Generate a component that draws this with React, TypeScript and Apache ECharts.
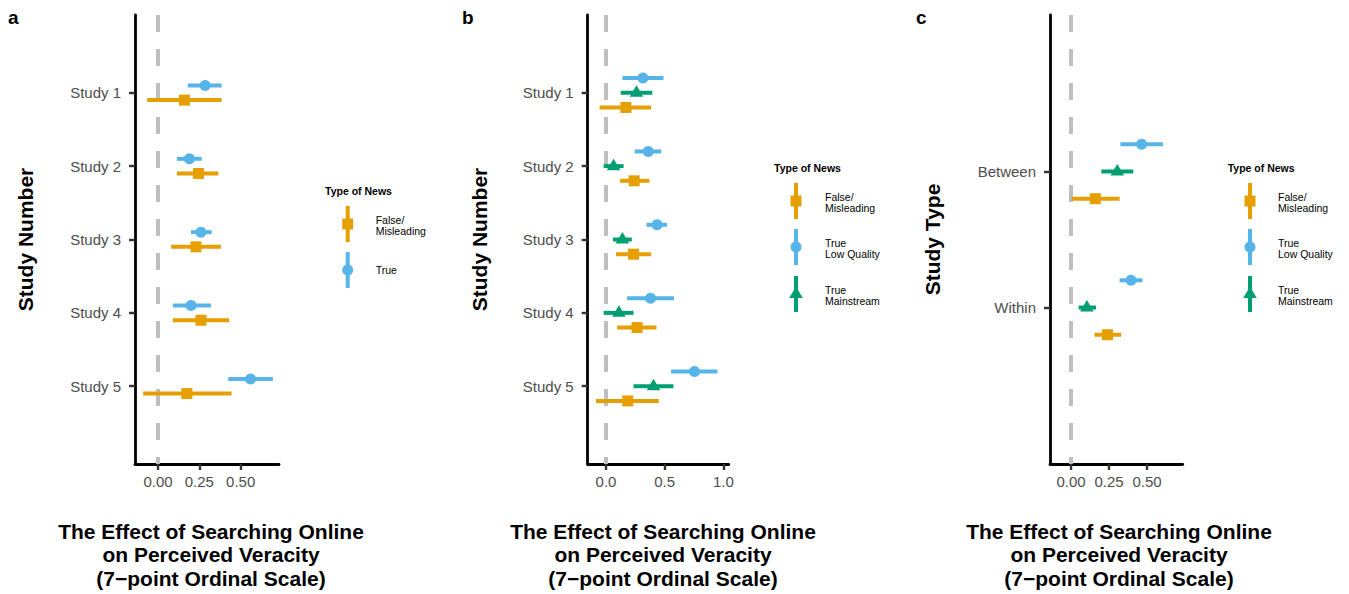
import React, { useEffect, useRef } from "react";
import * as echarts from "echarts";

// ---- data ----
const studyLabels = ["Study 1", "Study 2", "Study 3", "Study 4", "Study 5"];
const designLabels = ["Between", "Within"];

// Panel a: false/misleading vs true
const aFalseEst = [0.16, 0.245, 0.23, 0.26, 0.175];
const aFalseLo = [-0.065, 0.115, 0.08, 0.09, -0.09];
const aFalseHi = [0.385, 0.365, 0.38, 0.43, 0.445];
const aTrueEst = [0.285, 0.19, 0.26, 0.2, 0.56];
const aTrueLo = [0.18, 0.115, 0.2, 0.09, 0.425];
const aTrueHi = [0.385, 0.265, 0.325, 0.32, 0.695];

// Panel b: false/misleading, true low quality, true mainstream
const bFalseEst = [0.17, 0.24, 0.235, 0.265, 0.185];
const bFalseLo = [-0.055, 0.12, 0.085, 0.095, -0.085];
const bFalseHi = [0.385, 0.37, 0.385, 0.43, 0.45];
const bLowEst = [0.315, 0.36, 0.435, 0.38, 0.755];
const bLowLo = [0.14, 0.245, 0.345, 0.18, 0.555];
const bLowHi = [0.49, 0.47, 0.52, 0.58, 0.95];
const bMainEst = [0.26, 0.065, 0.14, 0.11, 0.405];
const bMainLo = [0.125, -0.02, 0.06, -0.02, 0.235];
const bMainHi = [0.395, 0.15, 0.22, 0.235, 0.575];

// Panel c: by study design
const cFalseEst = [0.16, 0.24];
const cFalseLo = [0.005, 0.155];
const cFalseHi = [0.32, 0.33];
const cLowEst = [0.465, 0.395];
const cLowLo = [0.325, 0.32];
const cLowHi = [0.605, 0.47];
const cMainEst = [0.305, 0.105];
const cMainLo = [0.2, 0.05];
const cMainHi = [0.41, 0.165];

const aTicks = [0, 0.25, 0.5];
const bTicks = [0, 0.5, 1];
const cTicks = [0, 0.25, 0.5];

// ---- styling ----
const ORANGE = "#E69F00";
const BLUE = "#56B4E9";
const GREEN = "#009E73";
const FONT = '"Liberation Sans", Arial, Helvetica, sans-serif';
const BAR_W = 4;

type Shape = "square" | "circle" | "triangle";

function symbolAt(shape: Shape, x: number, y: number, color: string) {
  if (shape === "square") {
    return { type: "rect", shape: { x: x - 5.5, y: y - 5.5, width: 11, height: 11 }, style: { fill: color } };
  }
  if (shape === "circle") {
    return { type: "circle", shape: { cx: x, cy: y, r: 5.5 }, style: { fill: color } };
  }
  return {
    type: "polygon",
    shape: { points: [[x, y - 7.5], [x + 6.8, y + 4], [x - 6.8, y + 4]] },
    style: { fill: color },
  };
}

function intervalRender(shape: Shape, color: string) {
  return (_params: any, api: any) => {
    const y = api.value(3);
    const a = api.coord([api.value(0), y]);
    const b = api.coord([api.value(1), y]);
    const c = api.coord([api.value(2), y]);
    return {
      type: "group",
      children: [
        {
          type: "line",
          shape: { x1: a[0], y1: a[1], x2: b[0], y2: b[1] },
          style: { stroke: color, lineWidth: BAR_W, lineCap: "butt" },
        },
        symbolAt(shape, c[0], c[1], color),
      ],
    };
  };
}

function rows(lo: number[], hi: number[], est: number[], offset: number) {
  return est.map((e, i) => [lo[i], hi[i], e, i + 1 + offset]);
}

function intervalSeries(idx: number, name: string, shape: Shape, color: string, data: number[][]) {
  return {
    type: "custom",
    name,
    xAxisIndex: idx,
    yAxisIndex: idx,
    renderItem: intervalRender(shape, color),
    encode: { x: [0, 1, 2], y: 3 },
    data,
    clip: false,
    z: 3,
  };
}

function zeroLineSeries(idx: number, yMin: number, yMax: number) {
  return {
    type: "custom",
    xAxisIndex: idx,
    yAxisIndex: idx,
    data: [[0]],
    encode: { x: 0 },
    z: 1,
    renderItem: (_p: any, api: any) => {
      const top = api.coord([api.value(0), yMin]);
      const bot = api.coord([api.value(0), yMax]);
      return {
        type: "line",
        shape: { x1: top[0], y1: top[1], x2: bot[0], y2: bot[1] },
        style: { stroke: "#BEBEBE", lineWidth: 4, lineDash: [17, 17], lineCap: "butt" },
      };
    },
  };
}

const axisLineStyle = { show: true, onZero: false, lineStyle: { color: "#000", width: 2.8 } };
const tickStyle = { lineStyle: { color: "#333", width: 2.4 } };
const labelStyle = { color: "#4D4D4D", fontSize: 15, fontFamily: FONT };

function xAxis(idx: number, min: number, max: number, ticks: number[], digits: number) {
  return {
    type: "value",
    gridIndex: idx,
    min,
    max,
    splitLine: { show: false },
    axisLine: axisLineStyle,
    axisTick: { show: true, length: 6, customValues: ticks, ...tickStyle },
    axisLabel: { ...labelStyle, margin: 10, customValues: ticks, formatter: (v: number) => v.toFixed(digits) },
  };
}

function yAxis(idx: number, min: number, max: number, labels: string[]) {
  const positions = labels.map((_, i) => i + 1);
  return {
    type: "value",
    gridIndex: idx,
    inverse: true,
    min,
    max,
    splitLine: { show: false },
    axisLine: axisLineStyle,
    axisTick: { show: true, length: 6, customValues: positions, ...tickStyle },
    axisLabel: {
      ...labelStyle,
      margin: 14,
      customValues: positions,
      formatter: (v: number) => labels[Math.round(v) - 1] ?? "",
    },
  };
}

function text(x: number, y: number, str: string, font: string, extra: any = {}) {
  return {
    type: "text",
    x,
    y,
    silent: true,
    ...extra,
    style: {
      text: str,
      font,
      fill: "#000",
      align: extra.align ?? "left",
      textAlign: extra.align ?? "left",
      verticalAlign: "middle",
      textVerticalAlign: "middle",
      lineHeight: extra.lineHeight,
    },
  };
}

function legend(left: number, titleY: number, keyX: number, labelX: number, keys: { y: number; shape: Shape; color: string; lines: string[] }[]) {
  const els: any[] = [text(left, titleY, "Type of News", `bold 10.5px ${FONT}`)];
  keys.forEach((k) => {
    els.push({
      type: "line",
      silent: true,
      shape: { x1: keyX, y1: k.y - 18, x2: keyX, y2: k.y + 18 },
      style: { stroke: k.color, lineWidth: BAR_W },
    });
    els.push({ ...symbolAt(k.shape, keyX, k.y, k.color), silent: true });
    k.lines.forEach((ln, j) => {
      const y = k.lines.length === 1 ? k.y : k.y - 4 + j * 11;
      els.push(text(labelX, y, ln, `10.5px ${FONT}`));
    });
  });
  return els;
}

const xTitle = "The Effect of Searching Online\non Perceived Veracity\n(7\u2212point Ordinal Scale)";

export default function App() {
  const ref = useRef<HTMLDivElement>(null);

  useEffect(() => {
    document.body.style.margin = "0";
    if (!ref.current) return;
    const chart = echarts.init(ref.current, undefined, { renderer: "svg" });

    const aY = [-0.06, 6.06];
    const bY = [-0.06, 6.06];
    const cY = [-0.15, 3.15];

    const option: any = {
      animation: false,
      backgroundColor: "#fff",
      textStyle: { fontFamily: FONT },
      grid: [
        { left: 135, top: 15, width: 144, height: 449 },
        { left: 587.7, top: 15, width: 141, height: 449 },
        { left: 1050, top: 15, width: 132.7, height: 449 },
      ],
      xAxis: [
        xAxis(0, -0.139, 0.732, aTicks, 2),
        xAxis(1, -0.156, 1.046, bTicks, 1),
        xAxis(2, -0.138, 0.735, cTicks, 2),
      ],
      yAxis: [
        yAxis(0, aY[0], aY[1], studyLabels),
        yAxis(1, bY[0], bY[1], studyLabels),
        yAxis(2, cY[0], cY[1], designLabels),
      ],
      series: [
        zeroLineSeries(0, aY[0], aY[1]),
        zeroLineSeries(1, bY[0], bY[1]),
        zeroLineSeries(2, cY[0], cY[1]),

        intervalSeries(0, "False/Misleading", "square", ORANGE, rows(aFalseLo, aFalseHi, aFalseEst, 0.1)),
        intervalSeries(0, "True", "circle", BLUE, rows(aTrueLo, aTrueHi, aTrueEst, -0.1)),

        intervalSeries(1, "False/Misleading", "square", ORANGE, rows(bFalseLo, bFalseHi, bFalseEst, 0.2)),
        intervalSeries(1, "True Low Quality", "circle", BLUE, rows(bLowLo, bLowHi, bLowEst, -0.2)),
        intervalSeries(1, "True Mainstream", "triangle", GREEN, rows(bMainLo, bMainHi, bMainEst, 0)),

        intervalSeries(2, "False/Misleading", "square", ORANGE, rows(cFalseLo, cFalseHi, cFalseEst, 0.2)),
        intervalSeries(2, "True Low Quality", "circle", BLUE, rows(cLowLo, cLowHi, cLowEst, -0.2)),
        intervalSeries(2, "True Mainstream", "triangle", GREEN, rows(cMainLo, cMainHi, cMainEst, 0)),
      ],
      graphic: [
        // panel tags
        text(8, 17, "a", `bold 19px ${FONT}`),
        text(462, 17, "b", `bold 19px ${FONT}`),
        text(916, 17, "c", `bold 19px ${FONT}`),
        // y titles
        text(25, 239.5, "Study Number", `bold 21px ${FONT}`, { rotation: Math.PI / 2, align: "center" }),
        text(479, 239.5, "Study Number", `bold 21px ${FONT}`, { rotation: Math.PI / 2, align: "center" }),
        text(932, 239.5, "Study Type", `bold 21px ${FONT}`, { rotation: Math.PI / 2, align: "center" }),
        // x titles
        text(211, 554.5, xTitle, `bold 21px ${FONT}`, { align: "center", lineHeight: 23.5 }),
        text(663, 554.5, xTitle, `bold 21px ${FONT}`, { align: "center", lineHeight: 23.5 }),
        text(1119, 554.5, xTitle, `bold 21px ${FONT}`, { align: "center", lineHeight: 23.5 }),
        // legends
        ...legend(325, 191, 347.7, 375.7, [
          { y: 224, shape: "square", color: ORANGE, lines: ["False/", "Misleading"] },
          { y: 270, shape: "circle", color: BLUE, lines: ["True"] },
        ]),
        ...legend(774, 168, 796, 825, [
          { y: 201, shape: "square", color: ORANGE, lines: ["False/", "Misleading"] },
          { y: 247, shape: "circle", color: BLUE, lines: ["True", "Low Quality"] },
          { y: 294, shape: "triangle", color: GREEN, lines: ["True", "Mainstream"] },
        ]),
        ...legend(1227.7, 168, 1250, 1278, [
          { y: 201, shape: "square", color: ORANGE, lines: ["False/", "Misleading"] },
          { y: 247, shape: "circle", color: BLUE, lines: ["True", "Low Quality"] },
          { y: 294, shape: "triangle", color: GREEN, lines: ["True", "Mainstream"] },
        ]),
      ],
    };

    chart.setOption(option);
    return () => chart.dispose();
  }, []);

  return <div ref={ref} style={{ width: 1349, height: 594 }} />;
}
